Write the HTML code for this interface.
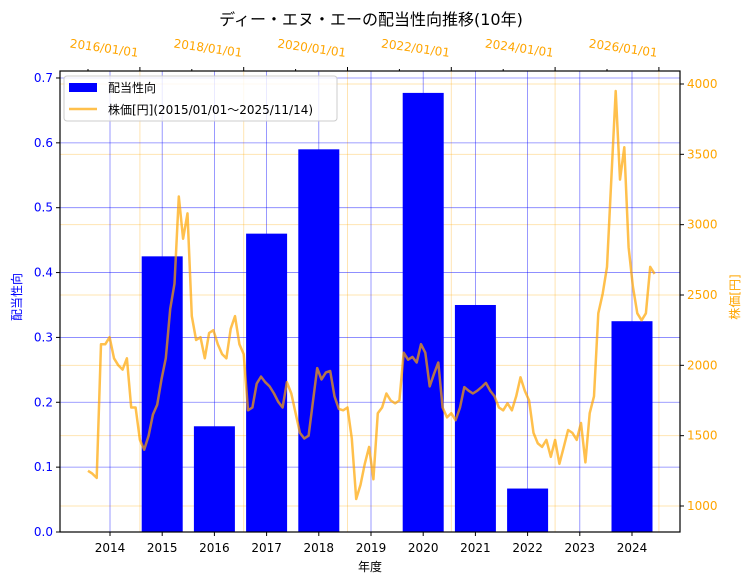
<!DOCTYPE html>
<html><head><meta charset="utf-8">
<style>
body{margin:0;background:#fff;}
svg{display:block;font-family:"DejaVu Sans","Noto Sans CJK JP",sans-serif;}
</style></head>
<body>
<svg id="chart" width="753" height="584" xmlns="http://www.w3.org/2000/svg"></svg>
<script>
const years = [2015,2016,2017,2018,2019,2020,2021,2022,2023,2024];
const payout = [0.425,0.163,0.46,0.59,0,0.677,0.35,0.067,0,0.325];
const leftTicks = [0.0,0.1,0.2,0.3,0.4,0.5,0.6,0.7];
const rightTicks = [1000,1500,2000,2500,3000,3500,4000];
const bottomTicks = [2014,2015,2016,2017,2018,2019,2020,2021,2022,2023,2024];
const topTickYears = [2016,2018,2020,2022,2024,2026];
const topTickLabels = ["2016/01/01","2018/01/01","2020/01/01","2022/01/01","2024/01/01","2026/01/01"];
// monthly closing price approximations, starting 2015/01
const prices = [1250,1230,1200,2150,2150,2200,2050,2000,1970,2050,1700,1700,
1470,1400,1500,1650,1720,1900,2050,2400,2580,3200,2900,3080,
2350,2180,2200,2050,2230,2250,2150,2080,2050,2260,2350,2150,
2080,1680,1700,1870,1920,1880,1850,1800,1740,1700,1880,1800,
1660,1520,1480,1500,1740,1980,1900,1950,1960,1780,1690,1680,
1700,1480,1050,1150,1300,1420,1190,1660,1700,1800,1750,1730,
1750,2090,2040,2060,2020,2150,2090,1850,1940,2020,1700,1630,
1660,1610,1700,1845,1820,1800,1820,1845,1875,1820,1780,1700,
1680,1730,1680,1780,1915,1820,1750,1520,1445,1420,1470,1350,
1470,1300,1420,1540,1520,1470,1590,1310,1660,1780,2370,2510,
2700,3320,3950,3320,3550,2840,2560,2370,2320,2370,2700,2650];

const L=60,R=680,T=71,B=532;
const xYear = v => 110 + (v-2014)*52.2;
const yLeft = v => 532 - v*648.6;
const yRight = v => 506 - (v-1000)*0.14067;
const xDate = yr => 88 + (yr-2015)*51.9;

const svg=document.getElementById('chart');
const NS='http://www.w3.org/2000/svg';
function mk(tag,attrs,parent){const e=document.createElementNS(NS,tag);for(const k in attrs)e.setAttribute(k,attrs[k]);(parent||svg).appendChild(e);return e;}

// orange grid (right axis + top axis)
const gO=mk('g',{});


rightTicks.forEach(v=>{mk('line',{x1:L,x2:R,y1:yRight(v),y2:yRight(v),stroke:'#ffa500','stroke-opacity':0.3,'stroke-width':1},gO);});
topTickYears.forEach(v=>{const x=xDate(v);if(x<R)mk('line',{x1:x,x2:x,y1:T,y2:B,stroke:'#ffa500','stroke-opacity':0.3,'stroke-width':1},gO);});

// bars
const barW=41;
years.forEach((yr,i)=>{
  if(payout[i]<=0)return;
  const b=mk('rect',{x:xYear(yr)-barW/2,y:yLeft(payout[i]),width:barW,height:B-yLeft(payout[i]),fill:'#0000ff'});
  
  
});

// blue grid
const gB=mk('g',{});


leftTicks.forEach(v=>{mk('line',{x1:L,x2:R,y1:yLeft(v),y2:yLeft(v),stroke:'#0000ff','stroke-opacity':0.5,'stroke-width':0.8},gB);});
bottomTicks.forEach(v=>{mk('line',{x1:xYear(v),x2:xYear(v),y1:T,y2:B,stroke:'#0000ff','stroke-opacity':0.5,'stroke-width':0.8},gB);});

// price line
let d='';
prices.forEach((p,i)=>{d+=(i?'L':'M')+xDate(2015+i/12).toFixed(1)+','+yRight(p).toFixed(1);});
const pl=mk('path',{d:d,fill:'none',stroke:'#ffa500','stroke-opacity':0.7,'stroke-width':2.5,'stroke-linejoin':'round'});



// frame
const fr=mk('rect',{x:L,y:T,width:R-L,height:B-T,fill:'none',stroke:'#000','stroke-width':1.2});



// left ticks
leftTicks.forEach(v=>{const y=yLeft(v);mk('line',{x1:L-4,x2:L,y1:y,y2:y,stroke:'#000'});
 const t=mk('text',{x:L-7,y:y+4,'text-anchor':'end','font-size':12,fill:'#0000ff'});t.textContent=v.toFixed(1);
 
 });
// right ticks
rightTicks.forEach(v=>{const y=yRight(v);mk('line',{x1:R,x2:R+4,y1:y,y2:y,stroke:'#000'});
 const t=mk('text',{x:R+7,y:y+4,'font-size':12,fill:'#ffa500'});t.textContent=v;
 
 });
// bottom ticks
bottomTicks.forEach(v=>{const x=xYear(v);mk('line',{x1:x,x2:x,y1:B,y2:B+4,stroke:'#000'});
 const t=mk('text',{x:x,y:B+20,'text-anchor':'middle','font-size':12,fill:'#000'});t.textContent=v;
 
 });
// top ticks (minor yearly, major every 2 years)
for(let yr=2015;yr<=2026;yr++){const x=xDate(yr);if(x>R)break;mk('line',{x1:x,x2:x,y1:T-(yr%2?2:4),y2:T,stroke:'#000'});}
topTickYears.forEach((v,i)=>{const x=xDate(v);
 const t=mk('text',{x:x-2,y:T-14,'text-anchor':'end','font-size':12,fill:'#ffa500',transform:'rotate(8 '+(x-2)+' '+(T-14)+')'});t.textContent=topTickLabels[i];
 
 });

// titles
let t=mk('text',{x:371,y:25,'text-anchor':'middle','font-size':16,fill:'#000'});t.textContent='ディー・エヌ・エーの配当性向推移(10年)';


t=mk('text',{x:370,y:571,'text-anchor':'middle','font-size':12,fill:'#000'});t.textContent='年度';


t=mk('text',{x:21,y:297,'text-anchor':'middle','font-size':12,fill:'#0000ff',transform:'rotate(-90 21 297)'});t.textContent='配当性向';


t=mk('text',{x:739,y:297,'text-anchor':'middle','font-size':12,fill:'#ffa500',transform:'rotate(-90 739 297)'});t.textContent='株価[円]';



// legend
const lg=mk('g',{});


mk('rect',{x:64,y:76,width:273,height:45,rx:3,fill:'#fff','fill-opacity':0.8,stroke:'#ccc'},lg);
const e1=mk('g',{},lg);


mk('rect',{x:69,y:83,width:28,height:9,fill:'#0000ff'},e1);
t=mk('text',{x:108,y:92,'font-size':12,fill:'#000'},e1);t.textContent='配当性向';
const e2=mk('g',{},lg);


mk('line',{x1:69,x2:97,y1:109,y2:109,stroke:'#ffa500','stroke-opacity':0.7,'stroke-width':2.5},e2);
t=mk('text',{x:108,y:114,'font-size':12,fill:'#000'},e2);t.textContent='株価[円](2015/01/01～2025/11/14)';
</script>
</body></html>
